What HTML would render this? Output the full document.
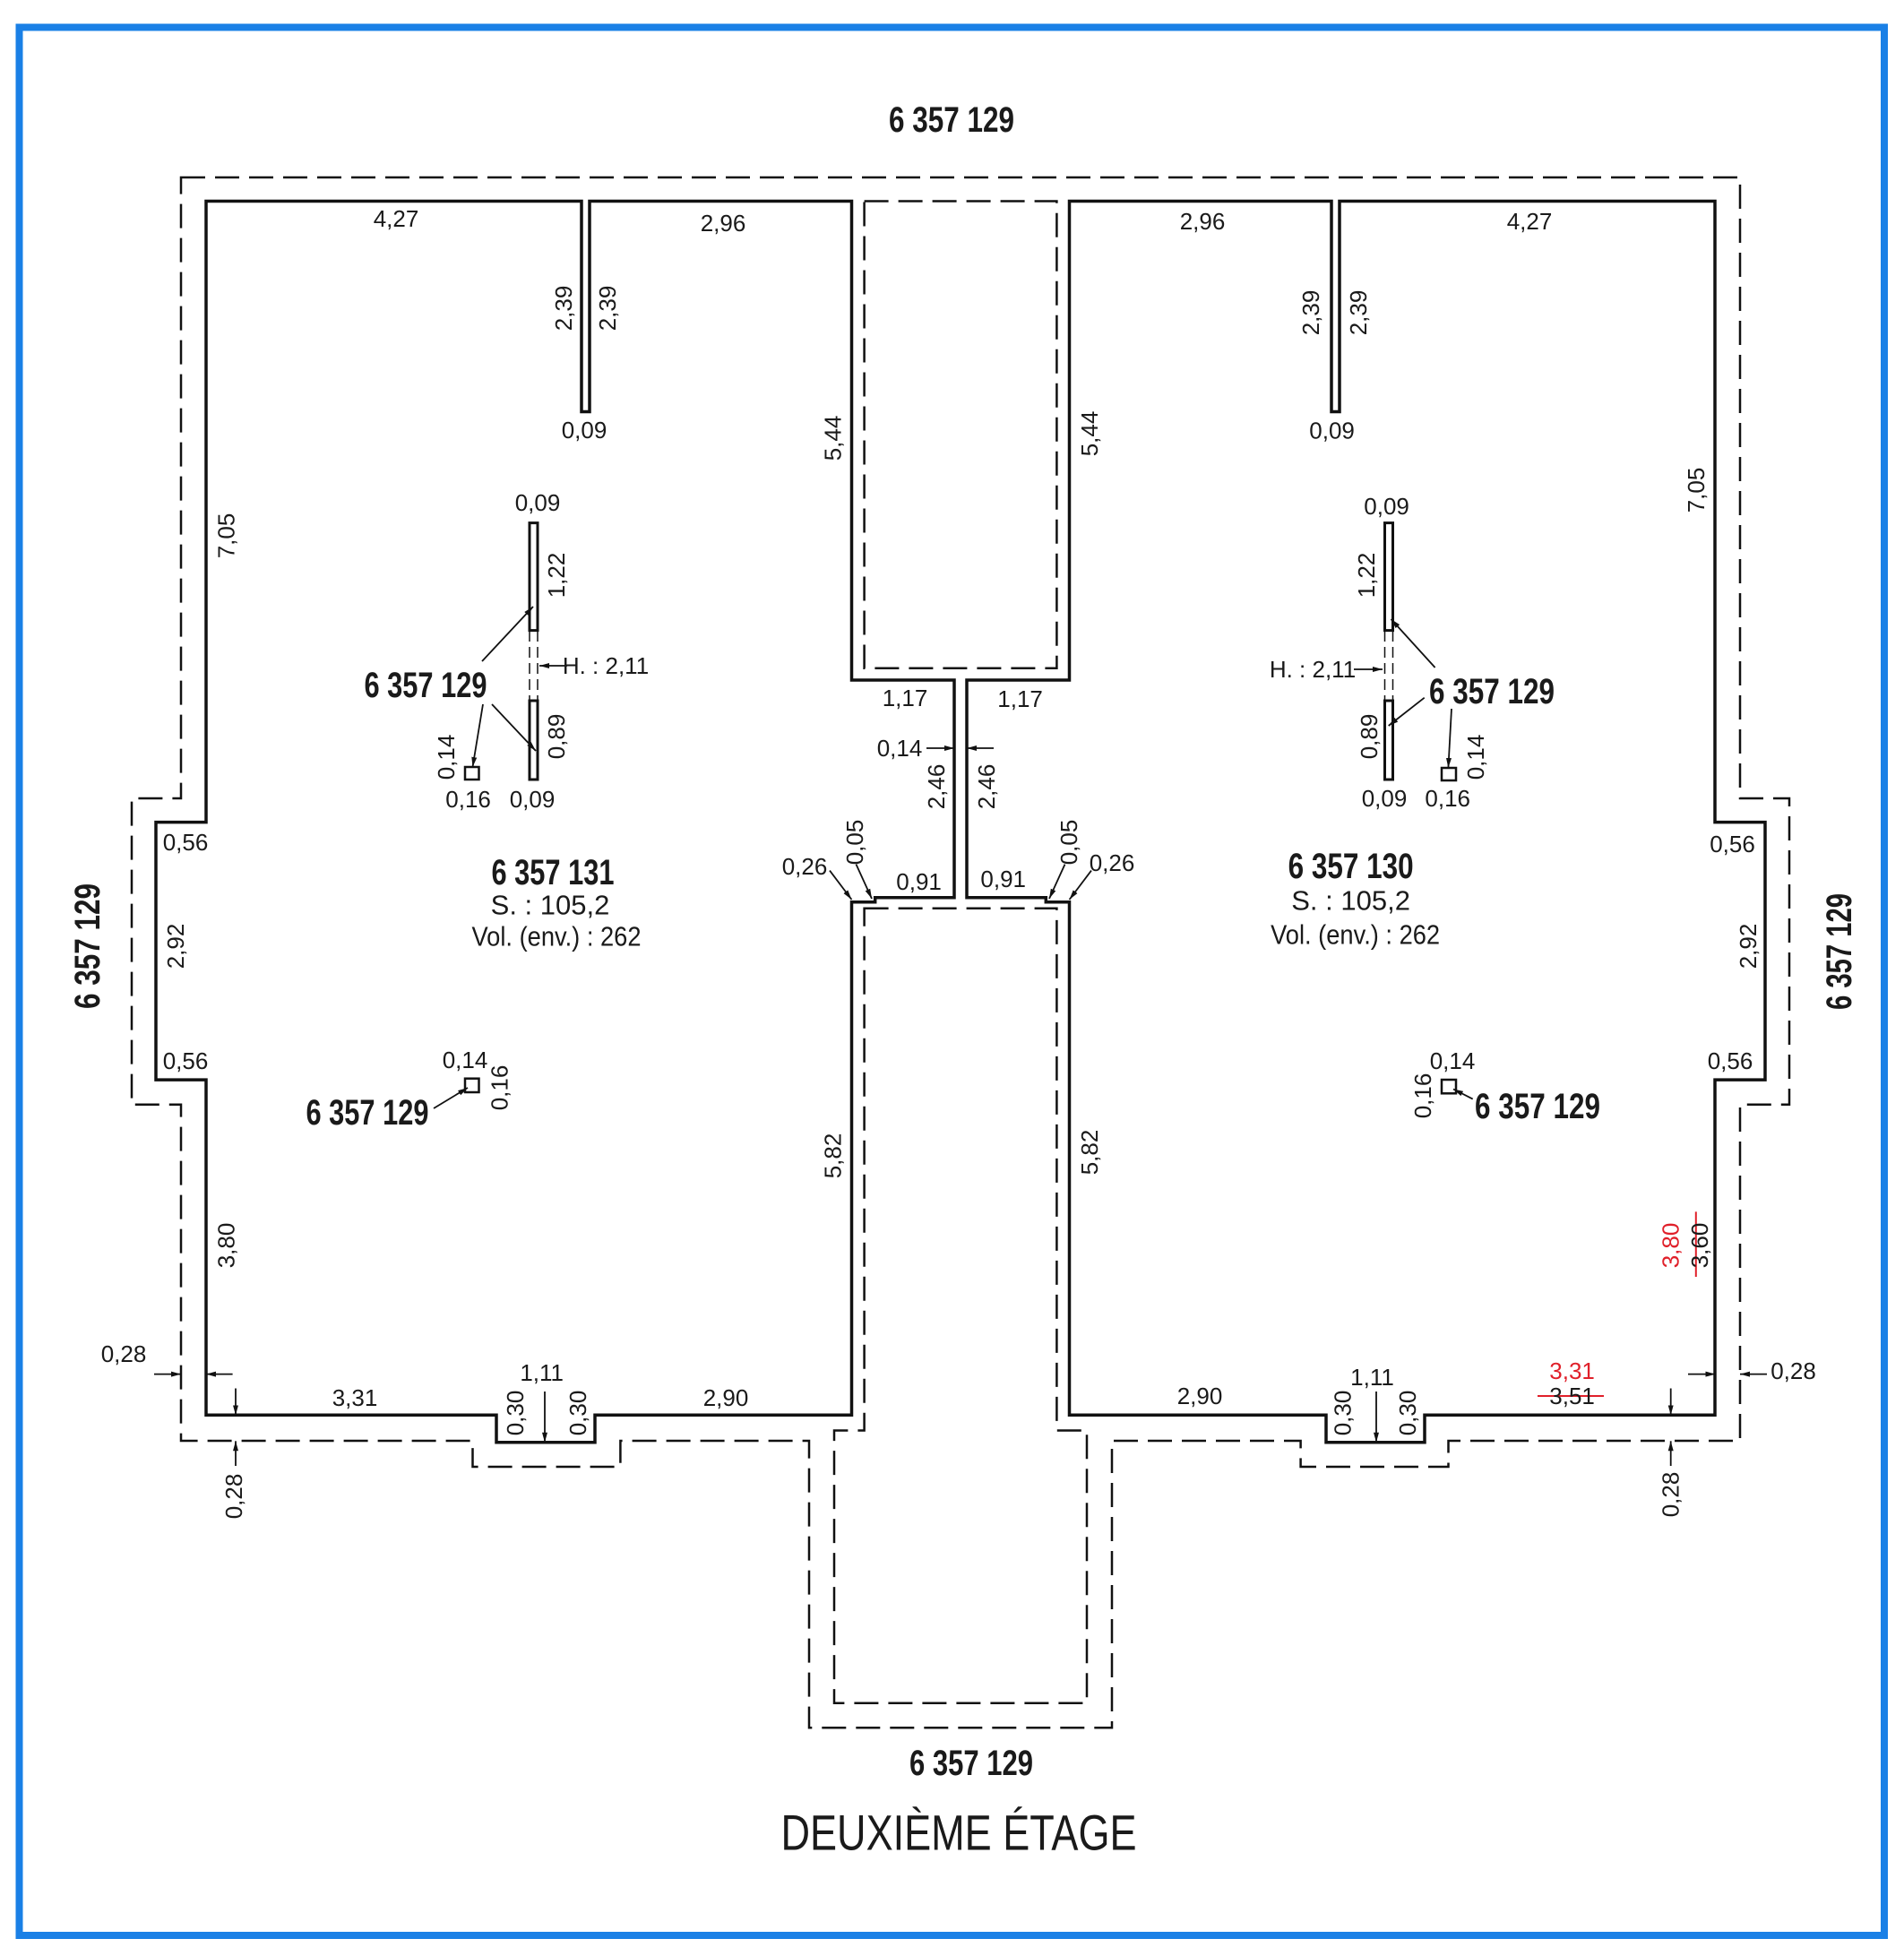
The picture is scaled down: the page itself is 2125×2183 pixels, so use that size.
<!DOCTYPE html>
<html><head><meta charset="utf-8"><style>
html,body{margin:0;padding:0;background:#fff;}
svg{display:block;}
text{font-family:"Liberation Sans Narrow","Liberation Sans",sans-serif;fill:#1a1a1a;}
.d{font-size:26px;}
.b{font-size:40px;font-weight:bold;}
.m{font-size:31px;}
.r{fill:#e0202a;}
</style></head><body>
<svg width="2125" height="2183" viewBox="0 0 2125 2183" xmlns="http://www.w3.org/2000/svg">
<defs>
<marker id="a" markerWidth="12" markerHeight="8" refX="11" refY="4" orient="auto" markerUnits="userSpaceOnUse">
<path d="M0,1 L11,4 L0,7 z" fill="#111"/></marker>
</defs>
<rect x="21.5" y="30.5" width="2081.5" height="2129.5" fill="none" stroke="#1a80e6" stroke-width="8"/>

<g fill="none" stroke="#111" stroke-width="2.5" stroke-dasharray="27 11">
<path d="M202,198 L1942,198 L1942,891 L1997,891 L1997,1232.8 L1942,1232.8 L1942,1608 L1616.5,1608 L1616.5,1637 L1451.6,1637 L1451.6,1608 L1241,1608 L1241,1928.3 L903,1928.3 L903,1608 L692.4,1608 L692.4,1637 L527.5,1637 L527.5,1608 L202,1608 L202,1232.8 L147,1232.8 L147,891 L202,891 Z"/>
<path d="M964.6,224.5 L1179.4,224.5 L1179.4,745.7 L964.6,745.7 Z"/>
<path d="M964.6,1013.7 L1179.4,1013.7 L1179.4,1596.5 L1213,1596.5 L1213,1900.7 L931,1900.7 L931,1596.5 L964.6,1596.5 Z"/>
</g>

<g fill="none" stroke="#111" stroke-width="3.5" stroke-linejoin="miter">
<path d="M230,224.5 L649,224.5 L649,459.5 L658,459.5 L658,224.5 L950.5,224.5 L950.5,759 L1065,759 L1065,1001.7 L976.7,1001.7 L976.7,1006.7 L950.5,1006.7 L950.5,1579.3 L664,1579.3 L664,1609.7 L554,1609.7 L554,1579.3 L230,1579.3 L230,1205.1 L174,1205.1 L174,917.6 L230,917.6 Z"/>
<path d="M1914,224.5 L1495,224.5 L1495,459.5 L1486,459.5 L1486,224.5 L1193.5,224.5 L1193.5,759 L1079,759 L1079,1001.7 L1167.3,1001.7 L1167.3,1006.7 L1193.5,1006.7 L1193.5,1579.3 L1480,1579.3 L1480,1609.7 L1590,1609.7 L1590,1579.3 L1914,1579.3 L1914,1205.1 L1970,1205.1 L1970,917.6 L1914,917.6 Z"/>
</g>

<g fill="none" stroke="#111">
<rect x="591" y="583.6" width="9" height="120" stroke-width="3"/>
<rect x="591" y="782" width="9" height="88" stroke-width="3"/>
<path d="M591,704 L591,782 M600,704 L600,782" stroke-width="1.5" stroke-dasharray="12 6"/>
<rect x="1545.5" y="583.6" width="9" height="120" stroke-width="3"/>
<rect x="1545.5" y="782" width="9" height="88" stroke-width="3"/>
<path d="M1545.5,704 L1545.5,782 M1554.5,704 L1554.5,782" stroke-width="1.5" stroke-dasharray="12 6"/>
<rect x="519" y="856" width="15.5" height="14" stroke-width="2.5"/>
<rect x="1609" y="857" width="16" height="14" stroke-width="2.5"/>
<rect x="519" y="1203.7" width="15.5" height="15.3" stroke-width="2.5"/>
<rect x="1609" y="1205" width="16" height="15.3" stroke-width="2.5"/>
</g>

<g stroke="#111" stroke-width="1.8" fill="none" marker-end="url(#a)">
<line x1="538" y1="738" x2="595" y2="677"/>
<line x1="549" y1="786" x2="598" y2="838"/>
<line x1="539" y1="786" x2="527.5" y2="856"/>
<line x1="633" y1="743" x2="602" y2="743"/>
<line x1="1601.6" y1="745" x2="1552.5" y2="691"/>
<line x1="1589.7" y1="778.7" x2="1549.7" y2="810"/>
<line x1="1620" y1="791" x2="1616.4" y2="857"/>
<line x1="1511" y1="747" x2="1543" y2="747"/>
<line x1="484" y1="1237" x2="522" y2="1214"/>
<line x1="1643.7" y1="1226.6" x2="1622" y2="1215.5"/>
<line x1="1034" y1="835" x2="1065" y2="835"/>
<line x1="1109" y1="835" x2="1079" y2="835"/>
<line x1="926" y1="971.6" x2="950.5" y2="1004"/>
<line x1="955.5" y1="964.6" x2="973" y2="1003"/>
<line x1="1218" y1="971.6" x2="1193.5" y2="1004"/>
<line x1="1188.5" y1="964.6" x2="1171" y2="1003"/>
<line x1="172" y1="1533.6" x2="202" y2="1533.6"/>
<line x1="259.6" y1="1533.6" x2="230" y2="1533.6"/>
<line x1="263" y1="1549.5" x2="263" y2="1579.3"/>
<line x1="263" y1="1636" x2="263" y2="1608.3"/>
<line x1="608" y1="1553" x2="608" y2="1609.7"/>
<line x1="1884" y1="1533.6" x2="1914.5" y2="1533.6"/>
<line x1="1972" y1="1533.6" x2="1942" y2="1533.6"/>
<line x1="1864.7" y1="1549.5" x2="1864.7" y2="1579.3"/>
<line x1="1864.7" y1="1636" x2="1864.7" y2="1608.3"/>
<line x1="1536" y1="1553" x2="1536" y2="1609.7"/>
</g>
<g stroke="#e0202a" stroke-width="2">
<line x1="1892.8" y1="1352.4" x2="1892.8" y2="1425"/>
<line x1="1716" y1="1558" x2="1790" y2="1558"/>
</g>

<g text-anchor="middle" dominant-baseline="central">
<text class="b" x="1062" y="134" textLength="140" lengthAdjust="spacingAndGlyphs">6 357 129</text>
<text class="b" x="1084" y="1968" textLength="138" lengthAdjust="spacingAndGlyphs">6 357 129</text>
<text x="1070" y="2045" style="font-size:56px" textLength="397" lengthAdjust="spacingAndGlyphs">DEUXIÈME ÉTAGE</text>
<text class="b" transform="translate(98,1056) rotate(-90)" textLength="140" lengthAdjust="spacingAndGlyphs">6 357 129</text>
<text class="b" transform="translate(2053,1062) rotate(-90)" textLength="130" lengthAdjust="spacingAndGlyphs">6 357 129</text>

<text class="d" x="442" y="244">4,27</text>
<text class="d" x="807" y="249">2,96</text>
<text class="d" transform="translate(629,344) rotate(-90)">2,39</text>
<text class="d" transform="translate(678,344) rotate(-90)">2,39</text>
<text class="d" x="652" y="480">0,09</text>
<text class="d" transform="translate(929.5,489) rotate(-90)">5,44</text>
<text class="d" transform="translate(252.5,598) rotate(-90)">7,05</text>
<text class="d" x="600" y="561">0,09</text>
<text class="d" transform="translate(621,642) rotate(-90)">1,22</text>
<text class="d" x="676" y="743">H. : 2,11</text>
<text class="b" x="475" y="765" textLength="137" lengthAdjust="spacingAndGlyphs">6 357 129</text>
<text class="d" transform="translate(498,845) rotate(-90)">0,14</text>
<text class="d" x="522.6" y="892">0,16</text>
<text class="d" x="594" y="892">0,09</text>
<text class="d" transform="translate(621,822) rotate(-90)">0,89</text>
<text class="d" x="1010" y="779">1,17</text>
<text class="d" x="1004" y="835">0,14</text>
<text class="d" transform="translate(1045,878) rotate(-90)">2,46</text>
<text class="d" x="207" y="940">0,56</text>
<text class="b" x="617" y="974" textLength="137" lengthAdjust="spacingAndGlyphs">6 357 131</text>
<text class="m" x="614" y="1010">S. : 105,2</text>
<text class="m" x="621" y="1045" textLength="189" lengthAdjust="spacingAndGlyphs">Vol. (env.) : 262</text>
<text class="d" x="898" y="967">0,26</text>
<text class="d" transform="translate(954,940) rotate(-90)">0,05</text>
<text class="d" x="1025.6" y="984">0,91</text>
<text class="d" transform="translate(196,1056) rotate(-90)">2,92</text>
<text class="d" x="207" y="1184">0,56</text>
<text class="d" x="519" y="1183">0,14</text>
<text class="d" transform="translate(557.7,1214) rotate(-90)">0,16</text>
<text class="b" x="410" y="1242" textLength="137" lengthAdjust="spacingAndGlyphs">6 357 129</text>
<text class="d" transform="translate(252.5,1390) rotate(-90)">3,80</text>
<text class="d" x="138" y="1511">0,28</text>
<text class="d" transform="translate(261,1670) rotate(-90)">0,28</text>
<text class="d" x="396" y="1560">3,31</text>
<text class="d" x="810" y="1560">2,90</text>
<text class="d" x="604.7" y="1532">1,11</text>
<text class="d" transform="translate(575,1577) rotate(-90)">0,30</text>
<text class="d" transform="translate(645,1577) rotate(-90)">0,30</text>
<text class="d" transform="translate(929.5,1290) rotate(-90)">5,82</text>

<text class="d" x="1342" y="247">2,96</text>
<text class="d" x="1707" y="247">4,27</text>
<text class="d" transform="translate(1463,349) rotate(-90)">2,39</text>
<text class="d" transform="translate(1516,349) rotate(-90)">2,39</text>
<text class="d" x="1486.6" y="480.5">0,09</text>
<text class="d" transform="translate(1216,484) rotate(-90)">5,44</text>
<text class="d" transform="translate(1893,547) rotate(-90)">7,05</text>
<text class="d" x="1547.6" y="565">0,09</text>
<text class="d" transform="translate(1525,642) rotate(-90)">1,22</text>
<text class="d" x="1465" y="747">H. : 2,11</text>
<text class="b" x="1665" y="772" textLength="140" lengthAdjust="spacingAndGlyphs">6 357 129</text>
<text class="d" transform="translate(1647,845) rotate(-90)">0,14</text>
<text class="d" x="1545" y="891">0,09</text>
<text class="d" x="1615.7" y="891">0,16</text>
<text class="d" transform="translate(1528,822) rotate(-90)">0,89</text>
<text class="d" x="1138.6" y="780">1,17</text>
<text class="d" transform="translate(1100.8,878) rotate(-90)">2,46</text>
<text class="d" transform="translate(1193,940) rotate(-90)">0,05</text>
<text class="d" x="1241" y="963">0,26</text>
<text class="d" x="1119.7" y="981">0,91</text>
<text class="b" x="1507.6" y="967" textLength="140" lengthAdjust="spacingAndGlyphs">6 357 130</text>
<text class="m" x="1507.6" y="1005">S. : 105,2</text>
<text class="m" x="1512.6" y="1043" textLength="189" lengthAdjust="spacingAndGlyphs">Vol. (env.) : 262</text>
<text class="d" x="1933.5" y="942">0,56</text>
<text class="d" transform="translate(1951,1056) rotate(-90)">2,92</text>
<text class="d" x="1621" y="1184">0,14</text>
<text class="d" transform="translate(1588,1223) rotate(-90)">0,16</text>
<text class="b" x="1716" y="1235" textLength="140" lengthAdjust="spacingAndGlyphs">6 357 129</text>
<text class="d" x="1931" y="1184">0,56</text>
<text class="d r" transform="translate(1864.7,1390) rotate(-90)">3,80</text>
<text class="d" transform="translate(1897,1390) rotate(-90)">3,60</text>
<text class="d r" x="1754.6" y="1530">3,31</text>
<text class="d" x="1754.6" y="1558">3,51</text>
<text class="d" x="1339" y="1558">2,90</text>
<text class="d" x="1531.5" y="1537">1,11</text>
<text class="d" transform="translate(1498.5,1577) rotate(-90)">0,30</text>
<text class="d" transform="translate(1570.8,1577) rotate(-90)">0,30</text>
<text class="d" x="2001.5" y="1530">0,28</text>
<text class="d" transform="translate(1864.7,1668) rotate(-90)">0,28</text>
<text class="d" transform="translate(1216,1286) rotate(-90)">5,82</text>
</g>
</svg>
</body></html>
